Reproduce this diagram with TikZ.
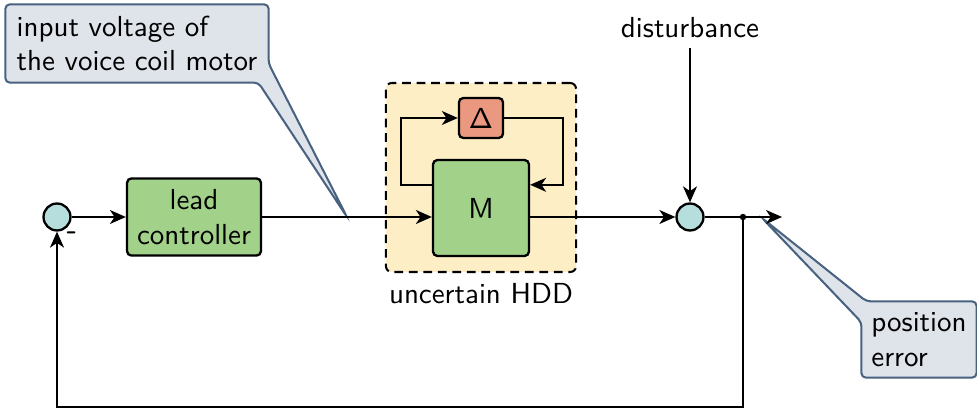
\documentclass[tikz,border=0pt]{standalone}
\usetikzlibrary{arrows.meta,backgrounds}
\definecolor{blockgreen}{RGB}{162,210,138}
\definecolor{deltared}{RGB}{234,152,128}
\definecolor{sumcyan}{RGB}{182,222,220}
\definecolor{unyellow}{RGB}{253,238,198}
\definecolor{callfill}{RGB}{223,227,234}
\definecolor{callline}{RGB}{72,98,128}
\begin{document}
\begin{tikzpicture}[x=0.345pt,y=-0.345pt,font=\sffamily,
 blockbox/.style={draw,line width=0.8pt,rounded corners=1.5pt,fill=blockgreen,align=center,inner sep=0pt},
 sumnode/.style={circle,draw,line width=0.8pt,fill=sumcyan,minimum size=9.3pt,inner sep=0pt},
 sig/.style={line width=0.75pt,-{Stealth[length=5.5pt,width=4.8pt,inset=1.6pt]}},
 callbox/.style={draw=callline,fill=callfill,line width=0.7pt,rounded corners=1.5pt},
 ]
\useasboundingbox (0,0) rectangle (977,410);

% uncertain HDD frame
\node[draw,dash pattern=on 3pt off 2pt,fill=unyellow,rounded corners=2pt,line width=0.7pt,
      minimum width=65.6pt,minimum height=65.2pt,inner sep=0pt] (hdd) at (481,177.5) {};
\node (hddlabel) at (481,294) {uncertain HDD};

% blocks
\node[sumnode] (s1) at (57,217) {};
\node[font=\sffamily\bfseries,inner sep=0pt] (minus) at (72,236) {-};
\node[blockbox,minimum width=46.2pt,minimum height=26.6pt] (lc) at (194,217) {lead\\controller};
\node[blockbox,minimum width=33.1pt,minimum height=33.1pt] (M) at (481,208) {M};
\node[blockbox,fill=deltared,minimum width=15.2pt,minimum height=13.8pt] (D) at (481,118) {$\mathsf{\Delta}$};
\node[sumnode] (s2) at (690,217) {};
\node (dist) at (690,28) {disturbance};
\coordinate (dot) at (743,217);
\coordinate (out) at (782,217);
\coordinate (tip1) at (347,217);
\coordinate (tip2) at (762,218);

% callouts
\node[minimum width=90.4pt,minimum height=26.6pt,inner sep=0pt,align=left] (c1) at (137,43.5)
  {input voltage of\\the voice coil motor};
\node[minimum width=39.3pt,minimum height=25.9pt,inner sep=0pt,align=left] (c2) at (919,339.5)
  {position\\error};
\begin{scope}[on background layer]
\draw[callbox] (c1.north west) -- (c1.north east) -- ([yshift=6.6pt]c1.south east) -- (tip1)
  -- ([xshift=-3.5pt]c1.south east) -- (c1.south west) -- cycle;
\draw[callbox] ([xshift=1.7pt]c2.north west) -- (c2.north east) -- (c2.south east) -- (c2.south west)
  -- ([yshift=-7.2pt]c2.north west) -- (tip2) -- cycle;
\end{scope}

% signals
\draw[sig] (s1) -- (lc);
\draw[sig] (lc.east) -- (lc.east -| M.west);
\draw[sig] (M.east |- s2.west) -- (s2);
\draw[sig] ([yshift=8pt]M.west) -- ++(-31,0) |- (D.west);
\draw[sig] (D.east) -- ++(59,0) |- ([yshift=8pt]M.east);
\draw[sig] (dist) -- (s2);
\draw[sig] (s2) -- (out);
\fill (dot) circle (1.1pt);
\draw[sig] (dot) -- ++(0,190) -| (s1);
\end{tikzpicture}
\end{document}
